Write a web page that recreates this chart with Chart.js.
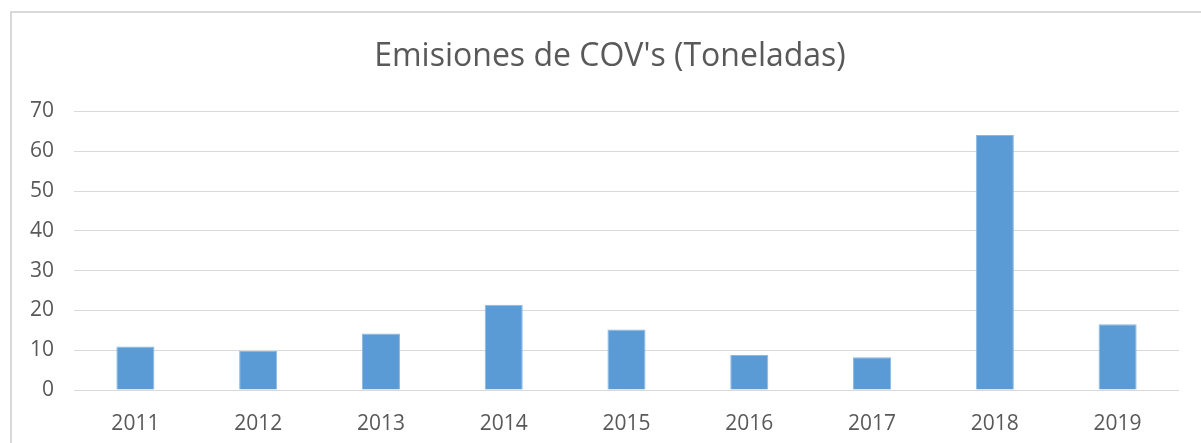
<!DOCTYPE html>
<html>
<head>
<meta charset="utf-8">
<script src="https://cdn.jsdelivr.net/npm/chart.js@4/dist/chart.umd.min.js"></script>
<style>
  html, body { margin: 0; padding: 0; background: #fff; overflow: hidden; }
  .frame {
    position: absolute; left: 10px; top: 11px; width: 1300px; height: 500px;
    border: 2px solid #d9d9d9; box-sizing: border-box;
  }
  .wrap { position: absolute; left: 0; top: 0; width: 1201px; height: 443px; }
</style>
</head>
<body>
<div class="frame"></div>
<div class="wrap"><canvas id="myChart"></canvas></div>
<script>
const years = ['2011', '2012', '2013', '2014', '2015', '2016', '2017', '2018', '2019']
const emisiones = [10.9, 9.8, 14.2, 21.4, 15.2, 8.8, 8.2, 64.1, 16.5]
const titleText = "Emisiones de COV's (Toneladas)"

const gray = '#595959'
const fontFamily = "'Open Sans', sans-serif"

// Excel centres the title on the whole chart box, a bit left of the plot centre
const titleShift = {
  id: 'titleShift',
  afterLayout(chart) {
    chart.titleBlock.left += 41
  }
}

const ctx = document.getElementById('myChart').getContext('2d')

const config = {
  type: 'bar',
  data: {
    labels: years,
    datasets: [
      {
        label: 'Emisiones',
        data: emisiones,
        backgroundColor: '#5b9bd5',
        borderColor: '#8ab8e2',
        borderWidth: 1,
        categoryPercentage: 1,
        barPercentage: 0.31
      }
    ]
  },
  options: {
    responsive: true,
    maintainAspectRatio: false,
    animation: false,
    layout: {
      padding: { left: 0, right: 22, top: 38, bottom: 0 }
    },
    plugins: {
      legend: { display: false },
      tooltip: { enabled: false },
      title: {
        display: true,
        text: titleText,
        color: gray,
        font: { family: fontFamily, size: 32, weight: 'normal', lineHeight: 1.2 },
        padding: { top: 0, bottom: 35 }
      }
    },
    scales: {
      x: {
        grid: { display: false },
        border: { display: false },
        ticks: {
          color: gray,
          font: { family: fontFamily, size: 21 },
          padding: 13,
          maxRotation: 0
        },
        afterFit: scale => { scale.height = 53 }
      },
      y: {
        min: 0,
        max: 70,
        ticks: {
          stepSize: 10,
          color: gray,
          font: { family: fontFamily, size: 21 },
          padding: 20
        },
        grid: { color: '#d9d9d9', lineWidth: 1, drawTicks: false },
        border: { display: false },
        afterFit: scale => { scale.width = 74 }
      }
    }
  },
  plugins: [titleShift]
}

const myBarChart = new Chart(ctx, config)
</script>
</body>
</html>
